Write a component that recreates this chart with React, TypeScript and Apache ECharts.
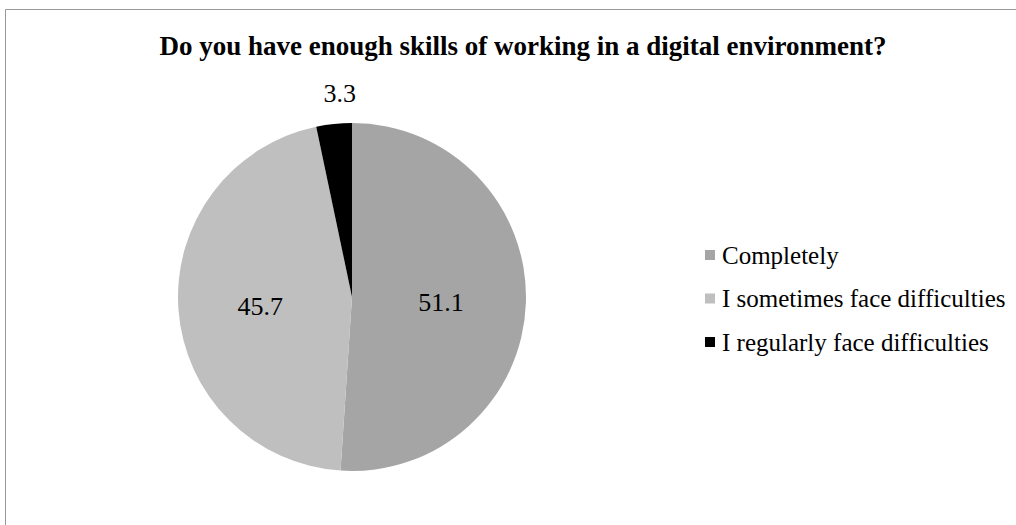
import React, { useEffect, useRef } from "react";
import * as echarts from "echarts";

const titleText = "Do you have enough skills of working in a digital environment?";
const categories = ["Completely", "I sometimes face difficulties", "I regularly face difficulties"];
const values = [51.1, 45.7, 3.3];
const colors = ["#A5A5A5", "#BFBFBF", "#000000"];
const labelOffsets: number[][] = [[-1, 3], [-2, 3], [-3, -114]];

export default function App() {
  const ref = useRef<HTMLDivElement>(null);
  useEffect(() => {
    const chart = echarts.init(ref.current!, null, { renderer: "svg" });
    const font = "Liberation Serif";
    chart.setOption({
      animation: false,
      backgroundColor: "#ffffff",
      textStyle: { fontFamily: font, color: "#000" },
      title: {
        text: titleText,
        left: 518,
        textAlign: "center",
        top: 27,
        textStyle: { fontFamily: font, fontWeight: "bold", fontSize: 27, color: "#000" },
      },
      graphic: [
        {
          type: "rect",
          shape: { x: 5.5, y: 9.5, width: 1030, height: 540 },
          style: { fill: "none", stroke: "#999", lineWidth: 1 },
          silent: true,
        },
      ],
      legend: {
        orient: "vertical",
        left: 705,
        top: 240,
        padding: 0,
        itemWidth: 10,
        itemHeight: 10,
        itemGap: 13.5,
        icon: "rect",
        textStyle: { fontFamily: font, fontSize: 25, color: "#000", lineHeight: 30, padding: [0, 0, 0, 2] },
        data: categories,
      },
      series: [
        {
          type: "pie",
          center: [352, 297],
          radius: [0, 174],
          startAngle: 90,
          clockwise: true,
          avoidLabelOverlap: false,
          labelLine: { show: false },
          itemStyle: { borderWidth: 0 },
          emphasis: { disabled: true },
          data: categories.map((name, i) => ({
            name,
            value: values[i],
            itemStyle: { color: colors[i] },
            label: {
              show: true,
              position: "inside",
              offset: labelOffsets[i],
              formatter: String(values[i]),
              fontFamily: font,
              fontSize: 26,
              color: "#000",
            },
          })),
        },
      ],
    });
    return () => chart.dispose();
  }, []);
  return <div ref={ref} style={{ position: "fixed", left: 0, top: 0, width: 1016, height: 525 }} />;
}
